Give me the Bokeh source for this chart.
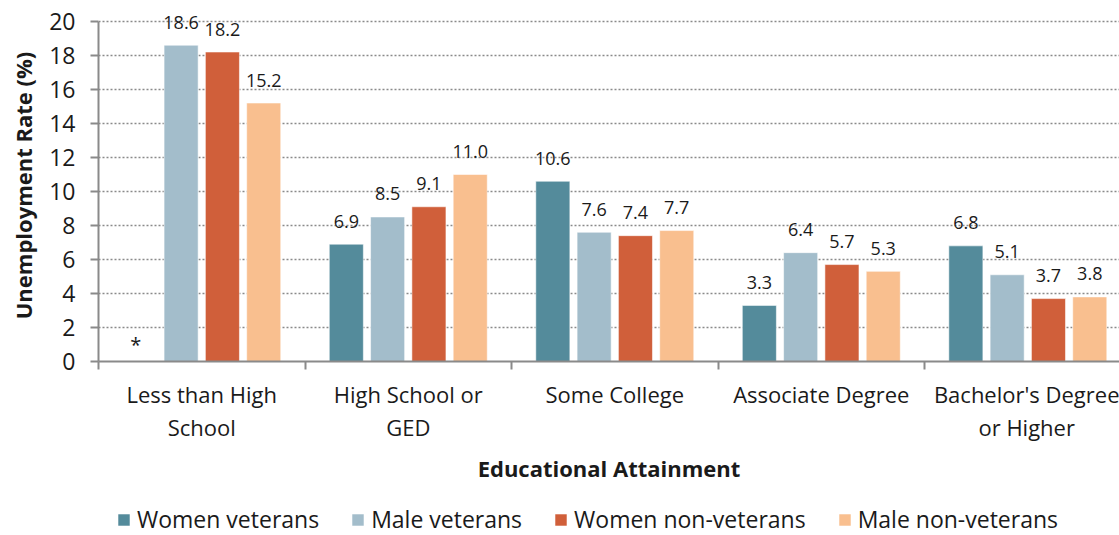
from bokeh.plotting import figure
from bokeh.layouts import column
from bokeh.models import (ColumnDataSource, Range1d, FixedTicker, Legend, LegendItem)
from bokeh.core.properties import value
from bokeh.embed import file_html
from bokeh.resources import INLINE

# Unemployment rate (%) by educational attainment
categories = ["Less than High\nSchool", "High School or\nGED", "Some College",
              "Associate Degree", "Bachelor's Degree\nor Higher"]
series_names = ["Women veterans", "Male veterans", "Women non-veterans", "Male non-veterans"]
women_veterans = [None, 6.9, 10.6, 3.3, 6.8]   # None: estimate not shown ("*")
male_veterans = [18.6, 8.5, 7.6, 6.4, 5.1]
women_non_veterans = [18.2, 9.1, 7.4, 5.7, 3.7]
male_non_veterans = [15.2, 11.0, 7.7, 5.3, 3.8]
y_ticks = [0, 2, 4, 6, 8, 10, 12, 14, 16, 18, 20]

series_values = [women_veterans, male_veterans, women_non_veterans, male_non_veterans]
colors = ["#548b9b", "#a3bdcb", "#d05f3a", "#f9bf8f"]
offsets = [-0.3, -0.1, 0.1, 0.3]
FONT = "Open Sans"
INK = "#1a1a1a"
AXIS_GREY = "#8a8a8a"

W, H_MAIN, H_LEG = 1119, 495, 40

p = figure(width=W, height=H_MAIN, output_backend="svg", toolbar_location=None,
           x_range=Range1d(0, 4.944), y_range=Range1d(0, 20.7),
           min_border_left=98, min_border_top=9, min_border_right=0,
           min_border_bottom=134)
p.outline_line_color = None

centers = [i + 0.5 for i in range(len(categories))]

for name, vals, col, off in zip(series_names, series_values, colors, offsets):
    xs = [c + off for c in centers]
    shown = [(x, v) for x, v in zip(xs, vals) if v is not None]
    missing = [x for x, v in zip(xs, vals) if v is None]
    src = ColumnDataSource(dict(x=[s[0] for s in shown], top=[s[1] for s in shown],
                                lab=[f"{s[1]:.1f}" for s in shown]))
    p.vbar(x="x", top="top", width=0.165, bottom=0, source=src,
           fill_color=col, line_color="white", line_alpha=0.55, line_width=1)
    p.text(x="x", y="top", text="lab", source=src, text_align="center",
           text_baseline="middle", y_offset=-23, text_font=value(FONT),
           text_font_size="18px", text_color=INK)
    if missing:
        msrc = ColumnDataSource(dict(x=missing, y=[0] * len(missing),
                                     lab=["*"] * len(missing)))
        p.text(x="x", y="y", text="lab", source=msrc, text_align="center",
               text_baseline="middle", x_offset=-4, y_offset=-17,
               text_font=value(FONT), text_font_size="20px", text_color=INK)

# y axis
p.yaxis.ticker = FixedTicker(ticks=y_ticks)
p.yaxis.bounds = (0, 20)
p.yaxis.axis_label = "Unemployment Rate (%)"
p.yaxis.axis_label_text_font = FONT
p.yaxis.axis_label_text_font_style = "bold"
p.yaxis.axis_label_text_font_size = "22px"
p.yaxis.axis_label_text_color = INK
p.yaxis.axis_label_standoff = 8
p.yaxis.major_label_text_font = FONT
p.yaxis.major_label_text_font_size = "23px"
p.yaxis.major_label_text_color = INK
p.yaxis.major_label_standoff = 15
p.yaxis.major_tick_out = 8
p.yaxis.major_tick_in = 0
p.yaxis.minor_tick_out = 0
p.yaxis.minor_tick_in = 0

# x axis: labels at group centres, tick marks between groups
p.xaxis.ticker = FixedTicker(ticks=centers, minor_ticks=list(range(len(categories) + 1)))
p.xaxis.major_label_overrides = {c: lab for c, lab in zip(centers, categories)}
p.xaxis.major_tick_out = 0
p.xaxis.major_tick_in = 0
p.xaxis.minor_tick_out = 8
p.xaxis.minor_tick_in = 0
p.xaxis.major_label_text_font = FONT
p.xaxis.major_label_text_font_size = "22px"
p.xaxis.major_label_text_color = INK
p.xaxis.major_label_text_line_height = 1.1
p.xaxis.major_label_standoff = 9
p.xaxis.axis_label = "Educational Attainment"
p.xaxis.axis_label_text_font = FONT
p.xaxis.axis_label_text_font_style = "bold"
p.xaxis.axis_label_text_font_size = "22px"
p.xaxis.axis_label_text_color = INK
p.xaxis.axis_label_standoff = 8

for ax in (p.xaxis, p.yaxis):
    ax.axis_line_color = AXIS_GREY
    ax.axis_line_width = 2
    ax.major_tick_line_color = AXIS_GREY
    ax.major_tick_line_width = 2
    ax.minor_tick_line_color = AXIS_GREY
    ax.minor_tick_line_width = 2

p.xgrid.grid_line_color = None
p.ygrid.ticker = FixedTicker(ticks=y_ticks[1:])
p.ygrid.grid_line_color = AXIS_GREY
p.ygrid.grid_line_dash = "2 2"
p.ygrid.grid_line_width = 1.5

# legend strip underneath the chart (its frame lines up with the chart frame)
leg = figure(width=W, height=H_LEG, output_backend="svg", toolbar_location=None,
             x_range=Range1d(0, 1), y_range=Range1d(0, 1), min_border=0)
leg.axis.visible = False
leg.grid.visible = False
leg.outline_line_color = None
items = []
for name, col in zip(series_names, colors):
    # zero-height swatch source outside the visible range; only the legend shows it
    r = leg.vbar(x=[-1], top=[0], width=0.01, fill_color=col, line_color="white",
                 line_alpha=0.55, line_width=1)
    items.append(LegendItem(label=name, renderers=[r]))
legend = Legend(items=items, orientation="horizontal", location=(18, 0),
                label_text_font=FONT, label_text_font_size="23px",
                label_text_color=INK, glyph_width=15, glyph_height=15,
                label_standoff=6, spacing=31, padding=0, margin=0,
                border_line_color=None, background_fill_alpha=0)
leg.add_layout(legend, "center")

layout = column(p, leg, spacing=0)
open("out.html", "w").write(file_html(layout, INLINE))
